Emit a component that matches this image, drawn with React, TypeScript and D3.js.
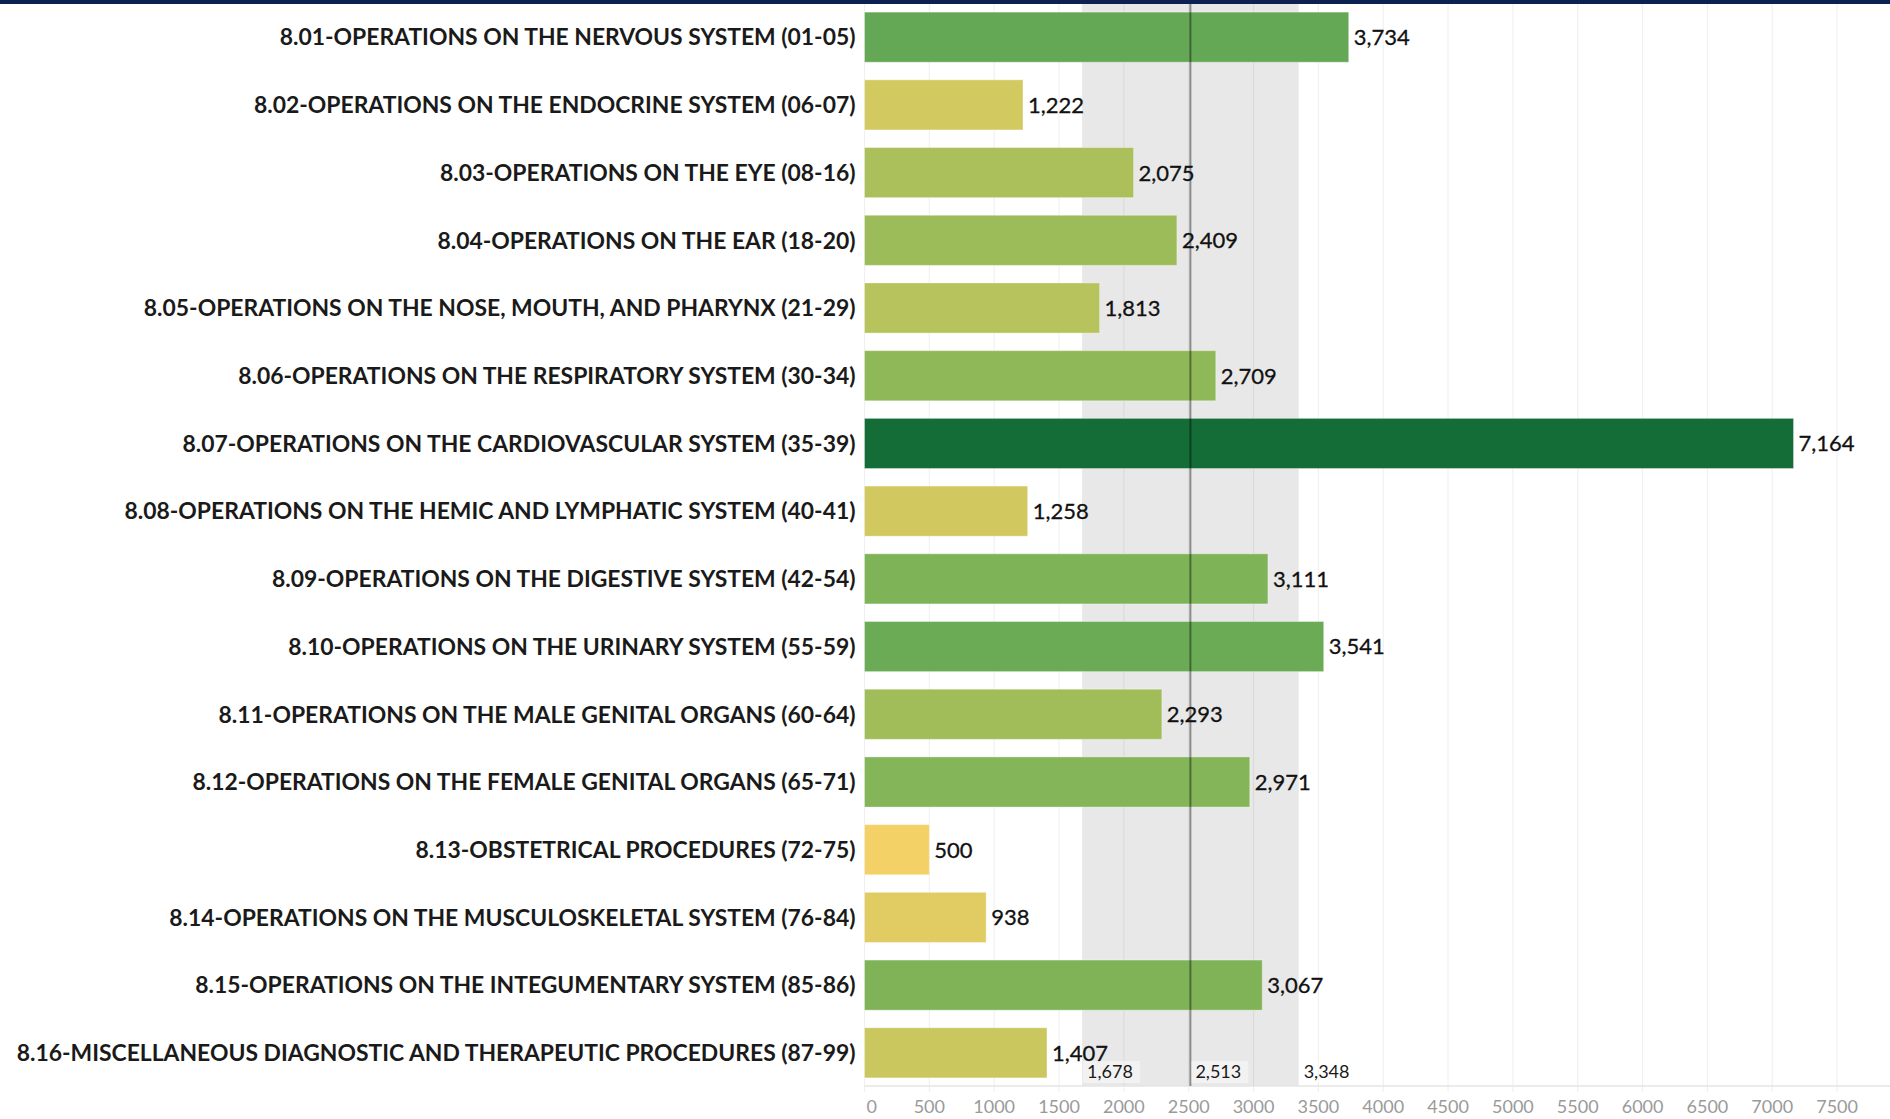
import * as d3 from 'd3'

const categories = [
  '8.01-OPERATIONS ON THE NERVOUS SYSTEM (01-05)',
  '8.02-OPERATIONS ON THE ENDOCRINE SYSTEM (06-07)',
  '8.03-OPERATIONS ON THE EYE (08-16)',
  '8.04-OPERATIONS ON THE EAR (18-20)',
  '8.05-OPERATIONS ON THE NOSE, MOUTH, AND PHARYNX (21-29)',
  '8.06-OPERATIONS ON THE RESPIRATORY SYSTEM (30-34)',
  '8.07-OPERATIONS ON THE CARDIOVASCULAR SYSTEM (35-39)',
  '8.08-OPERATIONS ON THE HEMIC AND LYMPHATIC SYSTEM (40-41)',
  '8.09-OPERATIONS ON THE DIGESTIVE SYSTEM (42-54)',
  '8.10-OPERATIONS ON THE URINARY SYSTEM (55-59)',
  '8.11-OPERATIONS ON THE MALE GENITAL ORGANS (60-64)',
  '8.12-OPERATIONS ON THE FEMALE GENITAL ORGANS (65-71)',
  '8.13-OBSTETRICAL PROCEDURES (72-75)',
  '8.14-OPERATIONS ON THE MUSCULOSKELETAL SYSTEM (76-84)',
  '8.15-OPERATIONS ON THE INTEGUMENTARY SYSTEM (85-86)',
  '8.16-MISCELLANEOUS DIAGNOSTIC AND THERAPEUTIC PROCEDURES (87-99)',
]

const counts = [3734, 1222, 2075, 2409, 1813, 2709, 7164, 1258, 3111, 3541, 2293, 2971, 500, 938, 3067, 1407]

// reference band (lower, upper) shown behind the bars
const bandLimits = [1678, 3348]

const tickValues = d3.range(0, 7501, 500)

// tableau green-gold
const goldGreen = ['#f4d166', '#d5ca60', '#b6c35c', '#98bb59', '#7cb257', '#60a656', '#4b9c53', '#3f8f4f', '#33834a', '#257740', '#146c36']

const App = () => {
  const width = 1890
  const height = 1119
  const x0 = 864.5
  const top = 4
  const bottom = 1086

  const xScale = d3.scaleLinear().domain([0, 7908]).range([x0, width])
  const yScale = d3.scaleBand<string>()
    .domain(categories)
    .range([top, bottom])
    .paddingInner(0.26)
    .paddingOuter(0.12)

  const colorScale = d3.scaleLinear<string>()
    .domain(goldGreen.map((_, i) => d3.min(counts)! + (i / (goldGreen.length - 1)) * (d3.max(counts)! - d3.min(counts)!)))
    .range(goldGreen)
    .interpolate(d3.interpolateRgb)

  const avg = Math.round(d3.mean(counts)!)
  const fmt = d3.format(',')
  const bw = yScale.bandwidth()
  const font = 'Lato, "Open Sans", sans-serif'

  const refLabels = [bandLimits[0], avg, bandLimits[1]]

  return (
    <svg width={width} height={height} style={{ position: 'absolute', left: 0, top: 0, background: '#fff' }}>
      <rect x={0} y={0} width={width} height={top} fill="#0b2152" />

      {/* reference band */}
      <rect x={xScale(bandLimits[0])} y={top} width={xScale(bandLimits[1]) - xScale(bandLimits[0])} height={bottom - top} fill="#e8e8e8" />

      {/* grid */}
      {tickValues.map(t => (
        <line key={t} x1={xScale(t)} x2={xScale(t)} y1={top} y2={bottom + 6} stroke="#000" strokeOpacity={0.06} strokeWidth={1.2} />
      ))}
      <line x1={x0} x2={width} y1={bottom} y2={bottom} stroke="#e4e4e4" strokeWidth={1.5} />

      {/* bars */}
      {categories.map((c, i) => (
        <rect key={c} x={xScale(0)} y={yScale(c)} width={xScale(counts[i]) - xScale(0)} height={bw}
          fill={colorScale(counts[i])} stroke="#fff" strokeOpacity={0.35} strokeWidth={1} />
      ))}

      {/* average line */}
      <line x1={xScale(avg)} x2={xScale(avg)} y1={top} y2={bottom} stroke="#000" strokeOpacity={0.4} strokeWidth={2} />

      {/* category labels */}
      {categories.map(c => (
        <text key={c} x={x0 - 9} y={yScale(c)! + bw / 2} dy="0.36em" textAnchor="end"
          fontFamily={font} fontWeight={700} fontSize={22.9} fill="#1a1a1a">{c}</text>
      ))}

      {/* value labels */}
      {categories.map((c, i) => (
        <text key={c} x={xScale(counts[i]) + 5} y={yScale(c)! + bw / 2} dy="0.36em"
          fontFamily={font} fontSize={22} fill="#111" stroke="#111" strokeWidth={0.3}>{fmt(counts[i])}</text>
      ))}

      {/* reference labels */}
      {refLabels.map(v => (
        <g key={v}>
          <rect x={xScale(v) + 1} y={1061} width={57} height={22} fill="#fff" fillOpacity={0.45} />
          <text x={xScale(v) + 5} y={1072} dy="0.36em" fontFamily={font} fontSize={18} fill="#1a1a1a">{fmt(v)}</text>
        </g>
      ))}

      {/* axis ticks */}
      {tickValues.map((t, i) => (
        <text key={t} x={i === 0 ? xScale(t) + 2 : xScale(t)} y={1107} dy="0.36em" textAnchor={i === 0 ? 'start' : 'middle'}
          fontFamily={font} fontSize={18} fill="#9a9a9a">{t}</text>
      ))}
    </svg>
  )
}

export default App
